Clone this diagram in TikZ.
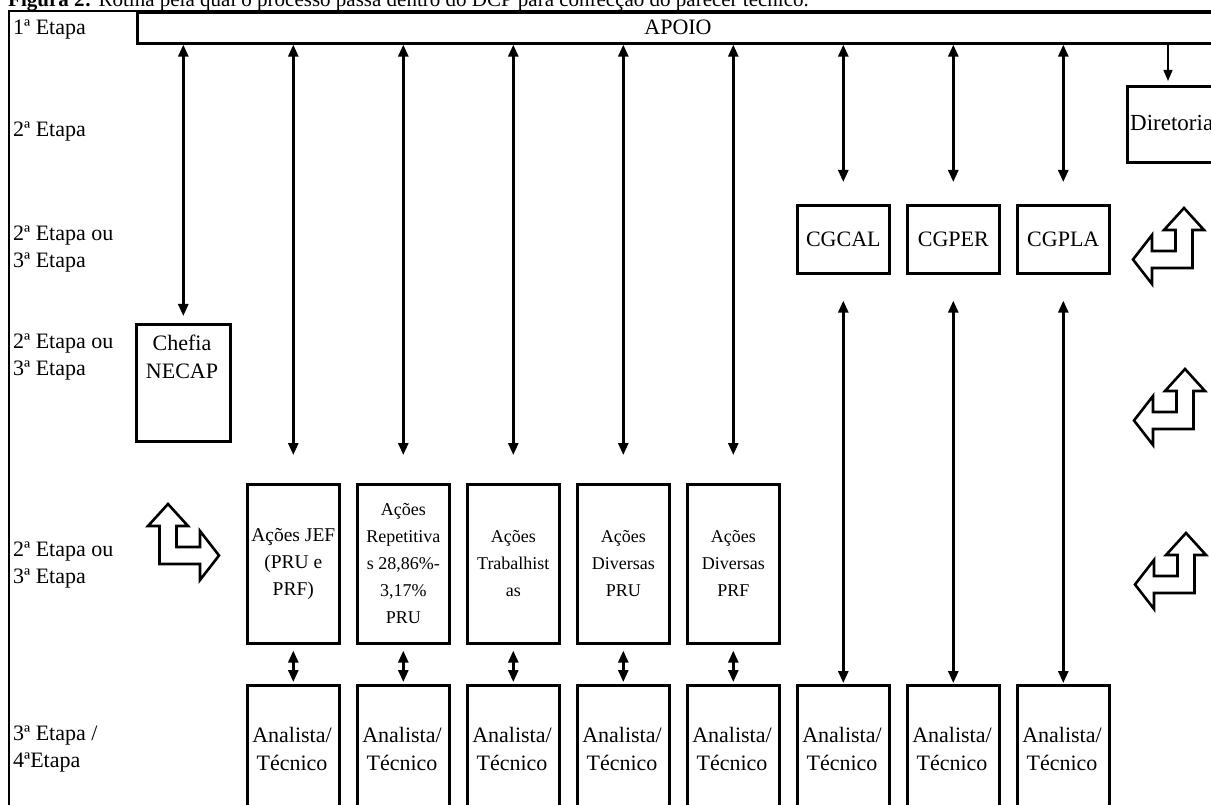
\documentclass[tikz,border=0pt]{standalone}
\usepackage{fontspec}
\setmainfont{Liberation Serif}
\usetikzlibrary{arrows.meta}
\tikzset{
  boxn/.style={draw, line width=2.6pt, inner sep=0pt, anchor=north west, align=center},
  lbl/.style={inner sep=0pt, anchor=west, align=left, font=\fontsize{22}{27}\selectfont},
  bigt/.style={inner sep=0pt, align=center, font=\fontsize{22}{28}\selectfont},
  smallt/.style={font=\fontsize{18}{27}\selectfont},
  jeft/.style={font=\fontsize{19.5}{27}\selectfont},
  dbl/.style={{Triangle[width=10pt,length=12pt]}-{Triangle[width=10pt,length=12pt]}, line width=2.6pt},
  bent/.pic={\draw[line width=2.6pt, fill=white, line join=miter]
    (0,0) -- (20,22) -- (8.5,22) -- (8.5,43) -- (32,43) -- (32,27) -- (51,51.5)
    -- (32,76) -- (32,60) -- (-8.5,60) -- (-8.5,22) -- (-20,22) -- cycle;}
}
\begin{document}
\begin{tikzpicture}[x=1pt,y=-1pt]
\useasboundingbox (0,0) rectangle (1211,805);
\clip (0,0) rectangle (1211,805);

% caption (top half cut off)
\node[inner sep=0pt, anchor=base west, font=\fontsize{21}{25}\selectfont] (cap) at (8,7)
  {\textbf{Figura 2:} Rotina pela qual o processo passa dentro do DCP para confecção do parecer técnico.};

% frame
\draw[line width=2pt] (8.5,812) -- (8.5,11) -- (1220,11);

% APOIO
\node[boxn, minimum width=1150pt, minimum height=31pt] (apoio) at (136,11) {};
\node[bigt] (apoiot) at (678,27) {APOIO};

% Diretoria
\node[boxn, minimum width=150pt, minimum height=76pt] (dir) at (1126,85) {};
\node[bigt, anchor=west, font=\fontsize{23}{28}\selectfont] (dirt) at (1130,123) {Diretoria};
\coordinate (dt) at (1168,85);

% CG boxes
\node[boxn, bigt, minimum width=92pt, minimum height=68pt] (cg1) at (796,204) {CGCAL};
\node[boxn, bigt, minimum width=92pt, minimum height=68pt] (cg2) at (906,204) {CGPER};
\node[boxn, bigt, minimum width=92pt, minimum height=68pt] (cg3) at (1016,204) {CGPLA};

% Chefia
\node[boxn, minimum width=94pt, minimum height=117pt] (chefia) at (135,323) {};
\node[bigt] (chefiat) at (182,357) {Chefia\\NECAP};

% Acoes boxes
\node[boxn, jeft, minimum width=92pt, minimum height=159pt] (j1) at (246,483) {Ações JEF\\(PRU e\\PRF)};
\node[boxn, smallt, minimum width=92pt, minimum height=159pt] (j2) at (356,483) {Ações\\Repetitiva\\s 28,86\%-\\3,17\%\\PRU};
\node[boxn, smallt, minimum width=92pt, minimum height=159pt] (j3) at (466,483) {Ações\\Trabalhist\\as};
\node[boxn, smallt, minimum width=92pt, minimum height=159pt] (j4) at (576,483) {Ações\\Diversas\\PRU};
\node[boxn, smallt, minimum width=92pt, minimum height=159pt] (j5) at (686,483) {Ações\\Diversas\\PRF};

% Analista boxes
\foreach \i/\x in {1/246,2/356,3/466,4/576,5/686,6/796,7/906,8/1016}{
  \node[boxn, minimum width=92pt, minimum height=186pt] (a\i) at (\x,684) {};
  \node[bigt] (at\i) at (\x+46,749) {Analista/\\Técnico};
}

% labels
\node[lbl] (l1) at (13,30) {1ª Etapa};
\node[lbl] (l2) at (13,132) {2ª Etapa};
\node[lbl] (l3) at (13,249) {2ª Etapa ou\\3ª Etapa};
\node[lbl] (l4) at (13,357) {2ª Etapa ou\\3ª Etapa};
\node[lbl] (l5) at (13,565) {2ª Etapa ou\\3ª Etapa};
\node[lbl] (l6) at (13,749) {3ª Etapa /\\4ªEtapa};

% connectors
\draw[dbl, shorten >=7pt] (apoio.south -| chefia.north) -- (chefia.north);
\foreach \i in {1,...,5}{
  \draw[dbl, shorten >=28pt] (apoio.south -| j\i.north) -- (j\i.north);
  \draw[dbl, shorten <=6pt, shorten >=2pt] (j\i.south) -- (a\i.north);
}
\foreach \i/\k in {1/6,2/7,3/8}{
  \draw[dbl, shorten >=22pt] (apoio.south -| cg\i.north) -- (cg\i.north);
  \draw[dbl, shorten <=26pt, shorten >=1pt] (cg\i.south) -- (a\k.north);
}
\draw[-{Triangle[width=9pt,length=11pt]}, line width=1.4pt, shorten >=4pt] (apoio.south -| dt) -- (dt);

% bent block arrows
\pic at (168,504) {bent};
\pic[xscale=-1] at (1184,208) {bent};
\pic[xscale=-1] at (1185,369) {bent};
\pic[xscale=-1] at (1186,533) {bent};
\end{tikzpicture}
\end{document}
